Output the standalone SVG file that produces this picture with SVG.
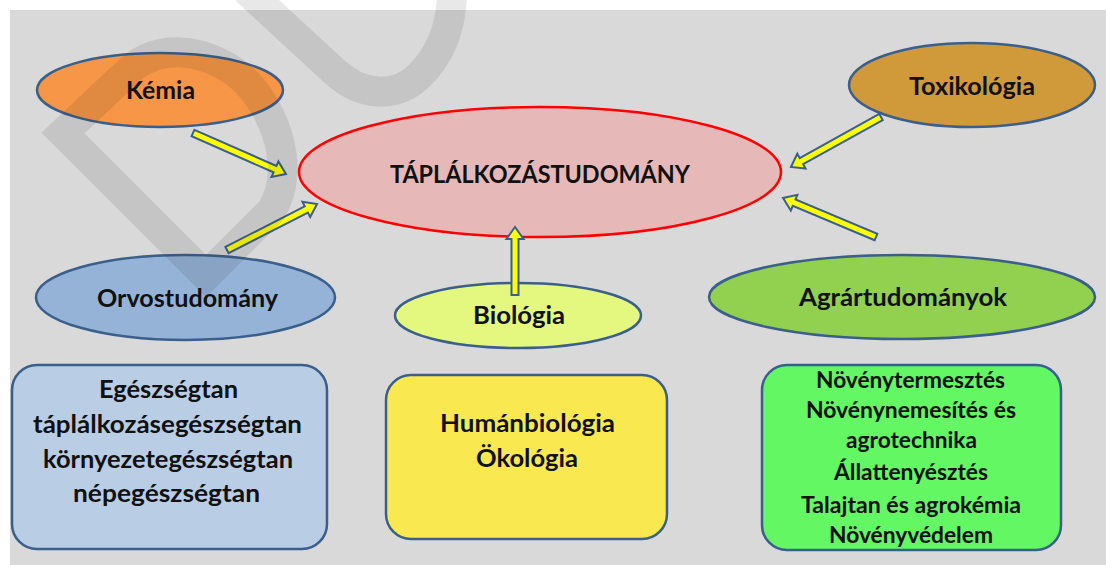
<svg xmlns="http://www.w3.org/2000/svg" width="1106" height="565" viewBox="0 0 1106 565">
  <style>
    .node { stroke: #3a5f8b; stroke-width: 2.5; }
    .t { font-family: Lato, "Open Sans", "Liberation Sans", sans-serif; font-weight: bold; font-size: 25px; fill: #111; }
    .s { font-size: 22px; }
    .arrow { fill: #ffff00; stroke: #3a5f8b; stroke-width: 2; stroke-linejoin: miter; }
    .wm { fill: none; stroke: #202020; stroke-opacity: 0.1; stroke-width: 30; stroke-linejoin: miter; }
  </style>
  <rect x="0" y="0" width="1106" height="565" fill="#ffffff"/>
  <rect x="10" y="10" width="1096" height="555" fill="#d9d9d9"/>

  <g id="node-taplalkozastudomany">
    <ellipse cx="540" cy="172" rx="241" ry="65" fill="#e6b9b8" stroke="#ff0000" stroke-width="2.5"/>
    <text class="t" x="390" y="183" textLength="300" lengthAdjust="spacingAndGlyphs">TÁPLÁLKOZÁSTUDOMÁNY</text>
  </g>
  <g id="node-kemia">
    <ellipse class="node" cx="160" cy="90" rx="123" ry="37" fill="#f79646"/>
    <text class="t" x="126" y="99" textLength="69" lengthAdjust="spacingAndGlyphs">Kémia</text>
  </g>
  <g id="node-toxikologia">
    <ellipse class="node" cx="972" cy="85" rx="123" ry="42" fill="#d0993a"/>
    <text class="t" x="909" y="95" textLength="126" lengthAdjust="spacingAndGlyphs">Toxikológia</text>
  </g>
  <g id="node-orvostudomany">
    <ellipse class="node" cx="185.5" cy="297.5" rx="149.5" ry="42.5" fill="#95b3d7"/>
    <text class="t" x="97" y="307" textLength="181" lengthAdjust="spacingAndGlyphs">Orvostudomány</text>
  </g>
  <g id="node-biologia">
    <ellipse class="node" cx="518" cy="315.5" rx="123" ry="32.5" fill="#e4f77e"/>
    <text class="t" x="473" y="324" textLength="92" lengthAdjust="spacingAndGlyphs">Biológia</text>
  </g>
  <g id="node-agrartudomanyok">
    <ellipse class="node" cx="902" cy="297" rx="193" ry="42" fill="#92d050"/>
    <text class="t" x="799" y="306" textLength="208" lengthAdjust="spacingAndGlyphs">Agrártudományok</text>
  </g>

  <g id="connectors">
    <polygon class="arrow" transform="translate(193,133) rotate(23.8)" points="0,-3.5 89.6,-3.5 89.6,-8.5 101.6,0 89.6,8.5 89.6,3.5 0,3.5"/>
    <polygon class="arrow" transform="translate(227,250) rotate(-27.07)" points="0,-3.5 89.1,-3.5 89.1,-8.5 101.1,0 89.1,8.5 89.1,3.5 0,3.5"/>
    <polygon class="arrow" transform="translate(881,117) rotate(150.95)" points="0,-3.5 91,-3.5 91,-8.5 103,0 91,8.5 91,3.5 0,3.5"/>
    <polygon class="arrow" transform="translate(876,237) rotate(202.75)" points="0,-3.5 88.8,-3.5 88.8,-8.5 100.8,0 88.8,8.5 88.8,3.5 0,3.5"/>
    <polygon class="arrow" transform="translate(515,295) rotate(-90)" points="0,-3.5 56,-3.5 56,-8.5 68,0 56,8.5 56,3.5 0,3.5"/>
  </g>

  <g id="box-orvos">
    <rect class="node" x="12" y="365" width="315" height="184" rx="25" fill="#b9cde5"/>
    <text class="t" x="99" y="398" textLength="139" lengthAdjust="spacingAndGlyphs">Egészségtan</text>
    <text class="t" x="33" y="433" textLength="269" lengthAdjust="spacingAndGlyphs">táplálkozásegészségtan</text>
    <text class="t" x="43" y="468" textLength="250" lengthAdjust="spacingAndGlyphs">környezetegészségtan</text>
    <text class="t" x="73" y="502" textLength="187" lengthAdjust="spacingAndGlyphs">népegészségtan</text>
  </g>
  <g id="box-biologia">
    <rect class="node" x="386" y="375" width="281" height="164" rx="25" fill="#f9e850"/>
    <text class="t" x="440" y="432" textLength="175" lengthAdjust="spacingAndGlyphs">Humánbiológia</text>
    <text class="t" x="476" y="467" textLength="102" lengthAdjust="spacingAndGlyphs">Ökológia</text>
  </g>
  <g id="box-agrar">
    <rect class="node" x="762" y="365" width="299" height="185" rx="25" fill="#63f763"/>
    <text class="t s" x="816" y="388" textLength="189" lengthAdjust="spacingAndGlyphs">Növénytermesztés</text>
    <text class="t s" x="806" y="418" textLength="210" lengthAdjust="spacingAndGlyphs">Növénynemesítés és</text>
    <text class="t s" x="846" y="448" textLength="131" lengthAdjust="spacingAndGlyphs">agrotechnika</text>
    <text class="t s" x="834" y="480" textLength="154" lengthAdjust="spacingAndGlyphs">Állattenyésztés</text>
    <text class="t s" x="801" y="513" textLength="220" lengthAdjust="spacingAndGlyphs">Talajtan és agrokémia</text>
    <text class="t s" x="829" y="543" textLength="164" lengthAdjust="spacingAndGlyphs">Növényvédelem</text>
  </g>

  <g id="watermark">
    <path class="wm" d="M 246,-10 L 335,72 C 360,95 395,100 420,75 C 445,50 452,20 452,-10"/>
    <path class="wm" d="M 63,133 L 132,68 C 160,45 200,48 235,72 C 272,100 298,165 272,210 L 206,276 Z"/>
  </g>
</svg>
